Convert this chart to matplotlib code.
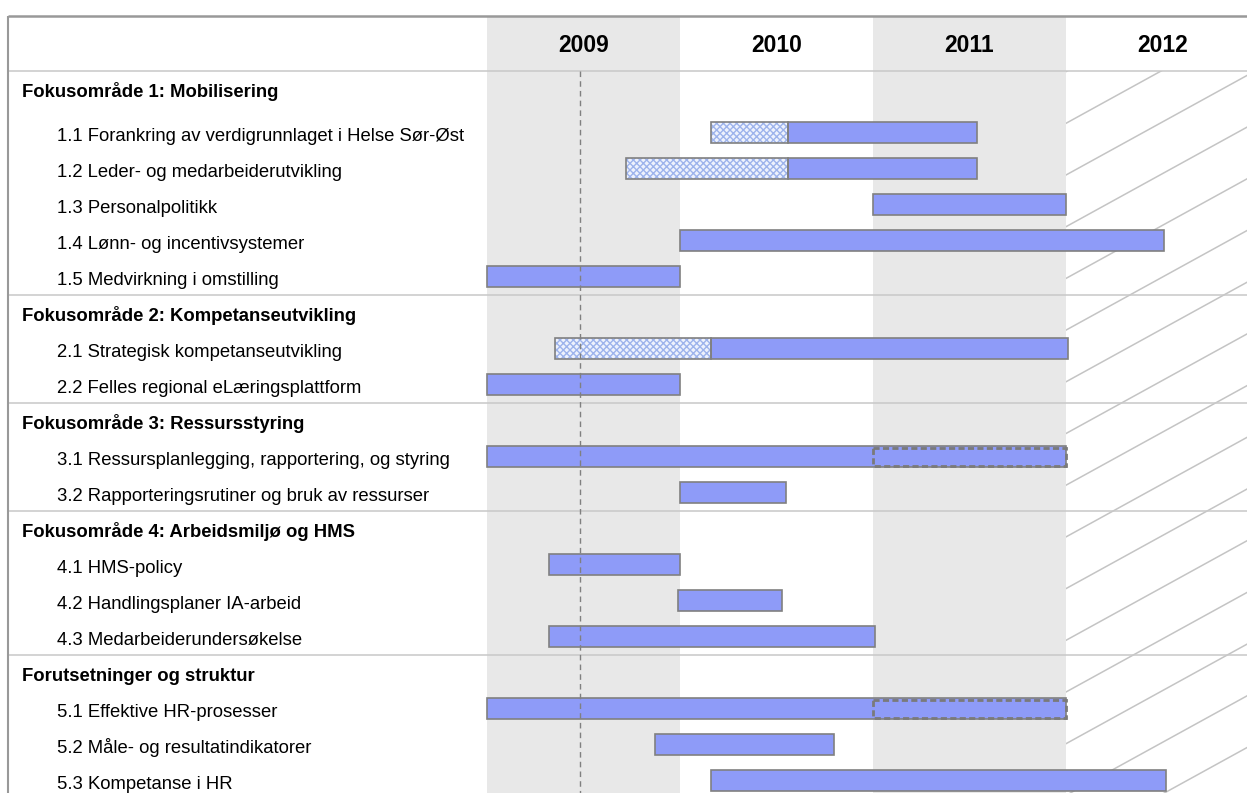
import numpy as np
import matplotlib
matplotlib.use("Agg")
import matplotlib.pyplot as plt
from matplotlib.patches import Rectangle
from matplotlib.lines import Line2D

# ---------------- data ----------------
years = [2009, 2010, 2011, 2012]
groups = [
    "Fokusområde 1: Mobilisering",
    "Fokusområde 2: Kompetanseutvikling",
    "Fokusområde 3: Ressursstyring",
    "Fokusområde 4: Arbeidsmiljø og HMS",
    "Forutsetninger og struktur",
]
tasks = [
    ["1.1 Forankring av verdigrunnlaget i Helse Sør-Øst",
     "1.2 Leder- og medarbeiderutvikling",
     "1.3 Personalpolitikk",
     "1.4 Lønn- og incentivsystemer",
     "1.5 Medvirkning i omstilling"],
    ["2.1 Strategisk kompetanseutvikling",
     "2.2 Felles regional eLæringsplattform"],
    ["3.1 Ressursplanlegging, rapportering, og styring",
     "3.2 Rapporteringsrutiner og bruk av ressurser"],
    ["4.1 HMS-policy",
     "4.2 Handlingsplaner IA-arbeid",
     "4.3 Medarbeiderundersøkelse"],
    ["5.1 Effektive HR-prosesser",
     "5.2 Måle- og resultatindikatorer",
     "5.3 Kompetanse i HR"],
]
# start of task, end of planning (hatched) phase (None = none), end of task
starts = [[2010.16, 2009.72, 2011.00, 2010.00, 2009.00],
          [2009.35, 2009.00],
          [2009.00, 2010.00],
          [2009.32, 2009.99, 2009.32],
          [2009.00, 2009.87, 2010.16]]
plan_ends = [[2010.56, 2010.56, None, None, None],
             [2010.16, None],
             [None, None],
             [None, None, None],
             [None, None, None]]
ends = [[2011.54, 2011.54, 2012.00, 2012.51, 2010.00],
        [2012.01, 2010.00],
        [2012.00, 2010.55],
        [2010.00, 2010.53, 2011.01],
        [2012.00, 2010.80, 2012.52]]
# uncertain (dashed outline) part
dashed_from = [[None] * 5,
               [None, None],
               [2011.0, None],
               [None, None, None],
               [2011.0, None, None]]
today = 2009.48

# ---------------- layout ----------------
W, H = 1247, 793
fig = plt.figure(figsize=(W / 100, H / 100), dpi=100)
ax = fig.add_axes([0, 0, 1, 1])
px_per_year = 193.0
x0_px = 487.0
xmin = 2009 - x0_px / px_per_year
xmax = 2009 + (W - x0_px) / px_per_year
ax.set_xlim(xmin, xmax)
ax.set_ylim(H, 0)
ax.axis("off")

top_y = 15.5
header_y = 70.7
row_h = 36.0
bar_h = 21.0
text_drop = 8.5  # baseline offset below row centre

bar_color = "#8E9BF8"
edge_color = "#808080"
band_color = "#E8E8E8"
sep_color = "#C8C8C8"

# gray year bands (2009, 2011)
for i, yr in enumerate(years):
    if i % 2 == 0:
        ax.axvspan(yr, yr + 1, ymin=0, ymax=1 - (top_y + 1) / H,
                   color=band_color, lw=0, zorder=0)

# year headers
for yr in years:
    ax.text(yr + 0.5, 52, str(yr), ha="center", va="baseline",
            fontsize=16.5, fontweight="bold",
            family=["Liberation Sans Narrow", "Liberation Sans", "DejaVu Sans"],
            zorder=5)

# compute row positions
group_y = []
task_y = []
seps = [header_y]
y = header_y
for gi, g in enumerate(groups):
    gy = y + 18
    group_y.append(gy)
    first = gy + row_h + (8 if gi == 0 else 0)
    ty = [first + k * row_h for k in range(len(tasks[gi]))]
    task_y.append(ty)
    y = ty[-1] + 18
    if gi < len(groups) - 1:
        seps.append(y)

# 2012 diagonal hatching (behind bars)
clip = Rectangle((2012, header_y), xmax - 2012, H - header_y,
                 transform=ax.transData, fill=False, lw=0)
ax.add_patch(clip)
slope = 0.55 * px_per_year
for y0 in np.arange(123.3 - 51.7 * 3, H + 51.7 * 5, 51.7):
    ln = Line2D([2012, 2014], [y0, y0 - 2 * slope], color="#C4C4C4", lw=1.1,
                zorder=1)
    ax.add_line(ln)
    ln.set_clip_path(clip)

# separators
for s in seps:
    ax.plot([xmin + 8 / px_per_year, xmax], [s, s], color=sep_color, lw=1.1,
            zorder=2, solid_capstyle="butt")

# borders
ax.plot([xmin + 8 / px_per_year, xmax], [top_y, top_y], color="#999999",
        lw=1.8, zorder=6, solid_capstyle="butt")
ax.plot([xmin + 8.3 / px_per_year] * 2, [top_y, H], color="#999999", lw=1.5,
        zorder=6, solid_capstyle="butt")

# today line
ax.plot([today, today], [header_y, H], color="#808080", lw=1.0,
        ls=(0, (4, 3)), zorder=4)

# labels and bars
for gi, g in enumerate(groups):
    ax.text(xmin + 22 / px_per_year, group_y[gi] + text_drop, g, ha="left",
            va="baseline", fontsize=13.3, fontweight="bold",
            family="Liberation Sans", zorder=5)
    for ti, t in enumerate(tasks[gi]):
        yy = task_y[gi][ti]
        ax.text(xmin + 57 / px_per_year, yy + text_drop, t, ha="left",
                va="baseline", fontsize=13.3, family="Liberation Sans",
                zorder=5)
        s, pe, e = starts[gi][ti], plan_ends[gi][ti], ends[gi][ti]
        solid_start = s
        if pe is not None:
            ax.barh(yy, pe - s, left=s, height=bar_h, color="#EEF2FD",
                    hatch="xxxxx", edgecolor="#9DB3EC", lw=0, zorder=3)
            ax.barh(yy, pe - s, left=s, height=bar_h, fill=False,
                    edgecolor=edge_color, lw=1.2, zorder=3.5)
            solid_start = pe
        ax.barh(yy, e - solid_start, left=solid_start, height=bar_h,
                color=bar_color, edgecolor=edge_color, lw=1.2, zorder=3)
        d = dashed_from[gi][ti]
        if d is not None:
            ax.barh(yy, e - d, left=d, height=bar_h - 3, fill=False,
                    edgecolor="#7A7A7A", lw=2.0, ls=(0, (2.2, 1.2)),
                    zorder=3.6)

fig.savefig("out.png", dpi=100)
